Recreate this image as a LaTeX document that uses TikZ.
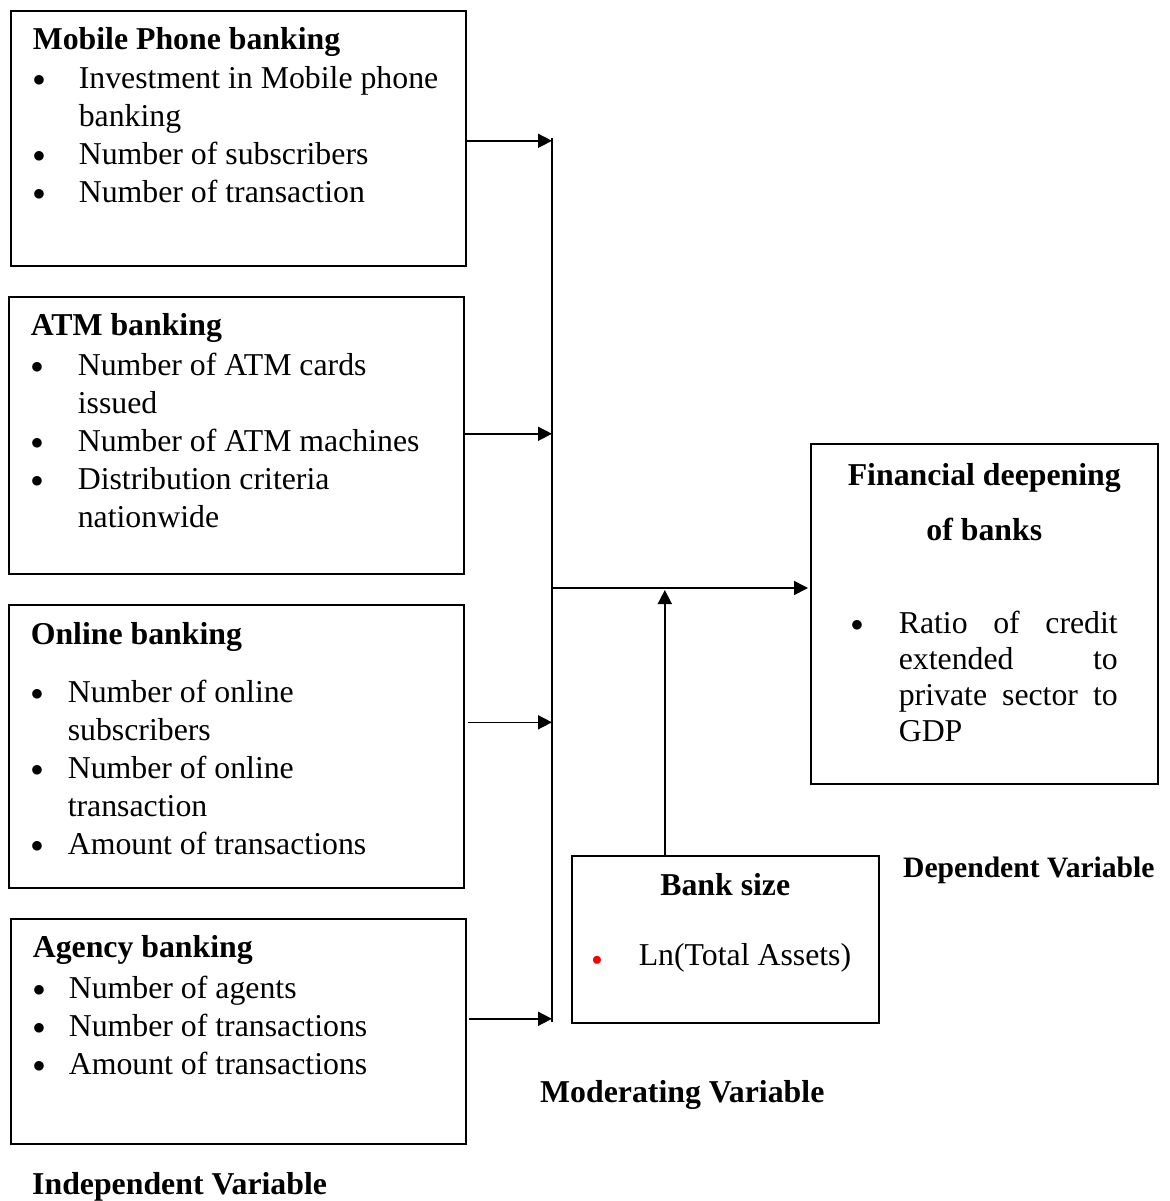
\documentclass[tikz,border=0pt]{standalone}
\usepackage{fontspec}
\setmainfont{Liberation Serif}
\usetikzlibrary{arrows.meta}

\newlength{\bpos}
\newlength{\bind}
\newcommand{\bdot}{\raisebox{2pt}{\fontsize{27}{38}\selectfont$\bullet$}}
\newcommand{\redbullet}{{\fontsize{22}{38}\selectfont\color{red}$\bullet$}}
\newcommand{\bitem}[2][\bdot]{\par\hangindent=\bind\hangafter=1\noindent\hbox to\bind{\hspace{\bpos}#1\hss}#2}
\newcommand{\ctitle}[1]{\par\hbox to\hsize{\hss\strut\textbf{#1}\hss}}
\newcommand{\boxtext}[4][22pt]{\parbox[c][#2][t]{#3}{\raggedright\leftskip=#1\fontsize{31.8}{38}\selectfont#4}}

\begin{document}
\begin{tikzpicture}[x=1pt,y=-1pt]
\tikzstyle{varbox}=[draw,line width=1.6pt,inner sep=0pt,anchor=north west]
\tikzstyle{vartitle}=[inner sep=0pt,anchor=base west,font=\bfseries\fontsize{31.8}{38}\selectfont]
\tikzstyle{arr}=[-{Triangle[length=14pt,width=14pt]},line width=1.6pt]
\useasboundingbox (0,0) rectangle (1169,1201);

\node[varbox] (mobile) at (10,10) {\boxtext{255pt}{455pt}{\vspace*{12.4pt}\strut\textbf{Mobile Phone banking}\par\vspace{1pt}
  \setlength\bpos{0pt}\setlength\bind{46pt}
  \bitem{Investment in Mobile phone\newline banking}
  \bitem{Number of subscribers}
  \bitem{Number of transaction}}};
\node[varbox] (atm) at (8,296) {\boxtext{277pt}{455pt}{\vspace*{12.4pt}\strut\textbf{ATM banking}\par\vspace{2pt}
  \setlength\bpos{0pt}\setlength\bind{47pt}
  \bitem{Number of ATM cards\newline issued}
  \bitem{Number of ATM machines}
  \bitem{Distribution criteria\newline nationwide}}};
\node[varbox] (online) at (8,604) {\boxtext{283pt}{455pt}{\vspace*{13.4pt}\strut\textbf{Online banking}\par\vspace{20pt}
  \setlength\bpos{0pt}\setlength\bind{37pt}
  \bitem{Number of online\newline subscribers}
  \bitem{Number of online\newline transaction}
  \bitem{Amount of transactions}}};
\node[varbox] (agency) at (10,918) {\boxtext{225pt}{455pt}{\vspace*{12.4pt}\strut\textbf{Agency banking}\par\vspace{3pt}
  \setlength\bpos{0pt}\setlength\bind{36pt}
  \bitem{Number of agents}
  \bitem{Number of transactions}
  \bitem{Amount of transactions}}};
\node[varbox] (fin) at (810,443) {\boxtext[40pt]{340pt}{347pt}{\vspace*{15.4pt}\ctitle{Financial deepening}\vspace{17pt}\ctitle{of banks}\vspace{57pt}
  \baselineskip=36pt\setlength\bpos{0pt}\setlength\bind{48pt}
  \bitem{\makebox[219pt][s]{Ratio of credit}\newline\makebox[219pt][s]{extended to}\newline\makebox[219pt][s]{private sector to}\newline GDP}}};
\node[varbox] (bank) at (571,855) {\boxtext[0pt]{167pt}{307pt}{\vspace*{13.4pt}\ctitle{Bank size}\vspace{32pt}
  \setlength\bpos{20pt}\setlength\bind{67pt}
  \bitem[\redbullet]{Ln(Total Assets)}}};

\node[vartitle,font=\bfseries\fontsize{29.6}{36}\selectfont] (dep) at (903,877) {Dependent Variable};
\node[vartitle] (mod) at (540,1102) {Moderating Variable};
\node[vartitle] (indep) at (32,1194) {Independent Variable};

\coordinate (bustop) at (552,138);
\coordinate (busbot) at (552,1022);
\coordinate (join) at (552,588);
\coordinate (mobileout) at ([yshift=-2.5pt]mobile.east);
\coordinate (atmout) at ([yshift=1.5pt]atm.east);
\coordinate (onlineout) at ([xshift=3pt,yshift=24pt]online.east);
\coordinate (agencyout) at ([xshift=2pt,yshift=12.5pt]agency.east);
\coordinate (bankout) at ([xshift=-60.5pt]bank.north);

\draw[line width=1.6pt] (bustop) -- (busbot);
\draw[arr] (mobileout) -- (mobileout -| bustop);
\draw[arr] (atmout) -- (atmout -| bustop);
\draw[arr] (onlineout) -- (onlineout -| bustop);
\draw[arr] (agencyout) -- (agencyout -| bustop);
\draw[arr,shorten >=2pt] (join) -- (join -| fin.west);
\draw[arr,shorten >=2pt] (bankout) -- (bankout |- join);
\end{tikzpicture}
\end{document}
